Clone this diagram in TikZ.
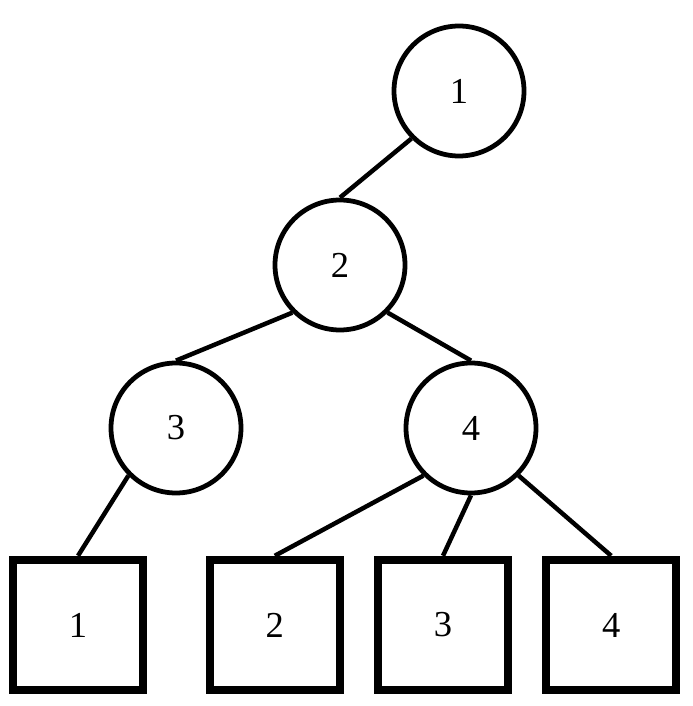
\documentclass[tikz,border=0pt]{standalone}
\usepackage{fontspec}
\setmainfont{Liberation Serif}
\usepackage{tikz}

\begin{document}
\begin{tikzpicture}[
  inner/.style={draw,circle,line width=3.4pt,minimum size=3.25cm,
    inner sep=0pt,font=\fontsize{26}{30}\selectfont},
  leaf/.style={draw,rectangle,line width=6pt,minimum size=3.25cm,
    inner sep=0pt,font=\fontsize{26}{30}\selectfont},
  link/.style={line width=3.2pt}
]
\useasboundingbox (0,0) rectangle (17.3,-17.65);
\node[inner] (c1) at (11.475,-2.275) {1};
\node[inner] (c2) at (8.5,-6.625) {2};
\node[inner] (c3) at (4.4,-10.7) {3};
\node[inner] (c4) at (11.775,-10.7) {4};
\node[leaf] (s1) at (1.95,-15.625) {1};
\node[leaf] (s2) at (6.87,-15.625) {2};
\node[leaf] (s3) at (11.075,-15.625) {3};
\node[leaf] (s4) at (15.28,-15.625) {4};
\draw[link] (c1.south west) -- (c2.north);
\draw[link] (c2.south west) -- (c3.north);
\draw[link] (c2.south east) -- (c4.north);
\draw[link] (c3.south west) -- (s1.north);
\draw[link] (c4.south west) -- (s2.north);
\draw[link] (c4.south) -- (s3.north);
\draw[link] (c4.south east) -- (s4.north);
\end{tikzpicture}
\end{document}
